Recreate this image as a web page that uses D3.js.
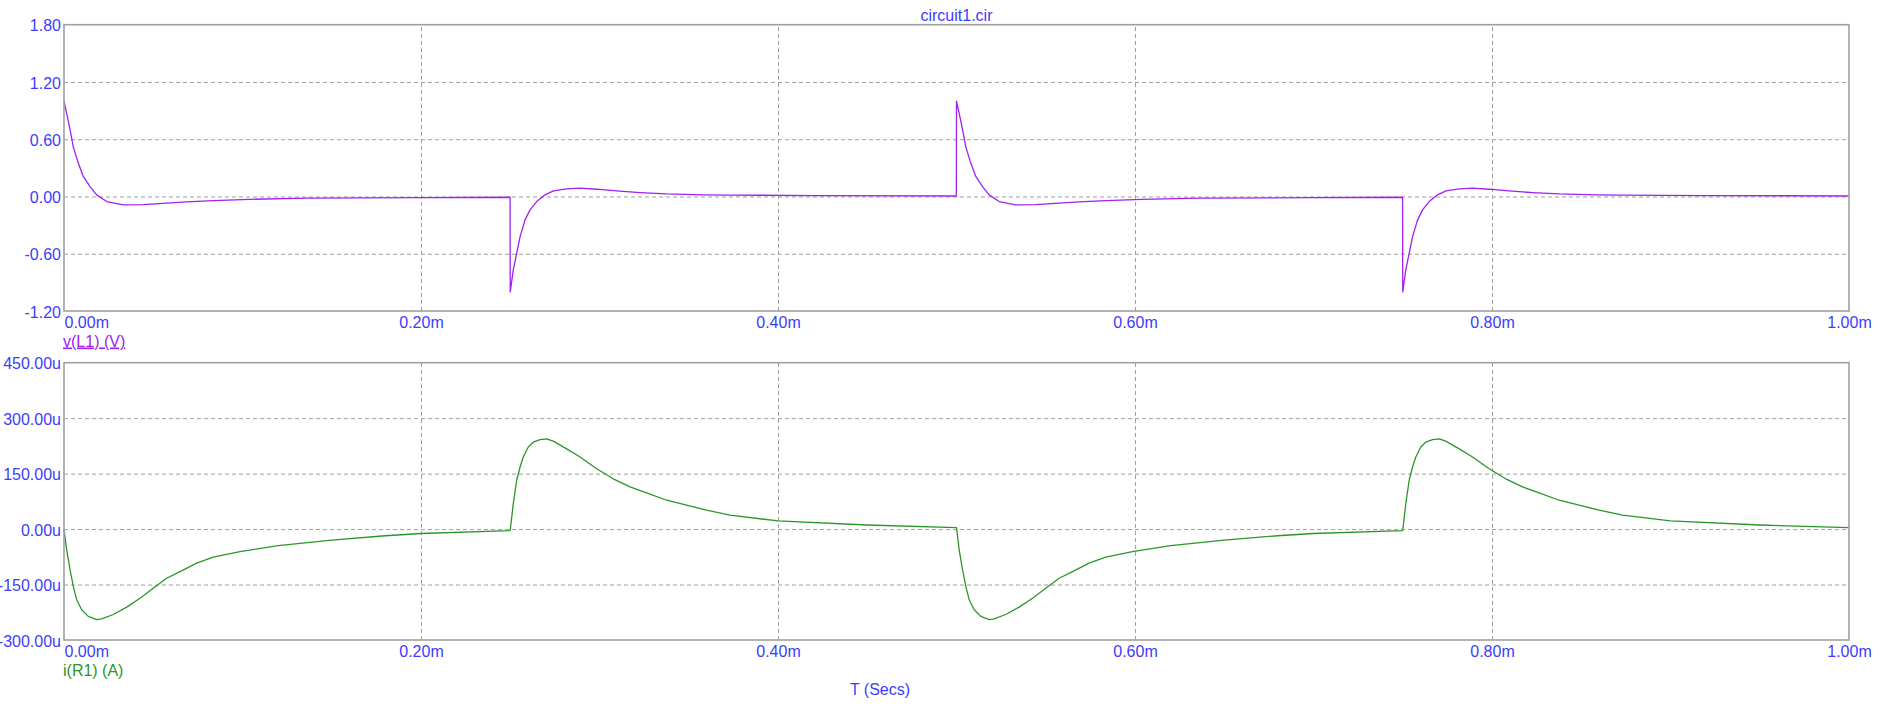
<!DOCTYPE html>
<html>
<head>
<meta charset="utf-8">
<script src="https://cdn.jsdelivr.net/npm/d3@7"></script>
<style>
  html, body { margin: 0; padding: 0; background: #ffffff; }
  svg { display: block; font-family: "Liberation Sans", Arial, sans-serif; }
</style>
</head>
<body>
<svg id="chart" width="1887" height="705"></svg>
<script>
// ---- data (time in ms) ----
const title = "circuit1.cir";
const xLabel = "T (Secs)";
const vLabel = "v(L1) (V)";
const iLabel = "i(R1) (A)";

const xTicks = [0, 0.2, 0.4, 0.6, 0.8, 1.0];
const xTickLabels = ["0.00m", "0.20m", "0.40m", "0.60m", "0.80m", "1.00m"];
const vTicks = [-1.2, -0.6, 0, 0.6, 1.2, 1.8];
const vTickLabels = ["-1.20", "-0.60", "0.00", "0.60", "1.20", "1.80"];
const iTicks = [-300, -150, 0, 150, 300, 450];
const iTickLabels = ["-300.00u", "-150.00u", "0.00u", "150.00u", "300.00u", "450.00u"];

// v(L1) in volts
const vTime = [
  0, 0.0015, 0.0034, 0.0052, 0.0080, 0.0108, 0.0146, 0.0183, 0.0239, 0.0332, 0.0444, 0.0575, 0.0687, 0.0836, 0.1040, 0.1360, 0.2000, 0.2499,
  0.2500, 0.2517, 0.2536, 0.2555, 0.2583, 0.2611, 0.2648, 0.2695, 0.2742, 0.2816, 0.2891, 0.2984, 0.3096, 0.3227, 0.3376, 0.3582, 0.3731, 0.4200, 0.4999,
  0.5000, 0.5015, 0.5034, 0.5052, 0.5080, 0.5108, 0.5146, 0.5183, 0.5239, 0.5332, 0.5444, 0.5575, 0.5687, 0.5836, 0.6040, 0.6360, 0.7000, 0.7499,
  0.7500, 0.7517, 0.7536, 0.7555, 0.7583, 0.7611, 0.7648, 0.7695, 0.7742, 0.7816, 0.7891, 0.7984, 0.8096, 0.8227, 0.8376, 0.8582, 0.8731, 0.9200, 1.0000
];
const vValues = [
  1.00, 0.87, 0.70, 0.52, 0.35, 0.21, 0.104, 0.017, -0.053, -0.088, -0.085, -0.070, -0.057, -0.044, -0.030, -0.018, -0.012, -0.008,
  -1.00, -0.77, -0.595, -0.42, -0.245, -0.14, -0.053, 0.017, 0.058, 0.080, 0.087, 0.076, 0.058, 0.041, 0.027, 0.017, 0.015, 0.010, 0.005,
  1.00, 0.87, 0.70, 0.52, 0.35, 0.21, 0.104, 0.017, -0.053, -0.088, -0.085, -0.070, -0.057, -0.044, -0.030, -0.018, -0.012, -0.008,
  -1.00, -0.77, -0.595, -0.42, -0.245, -0.14, -0.053, 0.017, 0.058, 0.080, 0.087, 0.076, 0.058, 0.041, 0.027, 0.017, 0.015, 0.010, 0.005
];

// i(R1) in microamps
const iTime = [
  0, 0.0015, 0.0034, 0.0052, 0.0071, 0.0099, 0.0136, 0.0183, 0.0211, 0.0276, 0.0351, 0.0426, 0.0500, 0.0575, 0.0650, 0.0743, 0.0836, 0.0986, 0.1200, 0.1500, 0.1800, 0.2000, 0.2499,
  0.2500, 0.2517, 0.2536, 0.2555, 0.2573, 0.2601, 0.2629, 0.2667, 0.2704, 0.2741, 0.2816, 0.2891, 0.2984, 0.3077, 0.3171, 0.3264, 0.3376, 0.3488, 0.3600, 0.3731, 0.4000, 0.4500, 0.4999,
  0.5000, 0.5015, 0.5034, 0.5052, 0.5071, 0.5099, 0.5136, 0.5183, 0.5211, 0.5276, 0.5351, 0.5426, 0.5500, 0.5575, 0.5650, 0.5743, 0.5836, 0.5986, 0.6200, 0.6500, 0.6800, 0.7000, 0.7499,
  0.7500, 0.7517, 0.7536, 0.7555, 0.7573, 0.7601, 0.7629, 0.7667, 0.7704, 0.7741, 0.7816, 0.7891, 0.7984, 0.8077, 0.8171, 0.8264, 0.8376, 0.8488, 0.8600, 0.8731, 0.9000, 0.9500, 1.0000
];
const iValues = [
  0, -56, -110, -155, -191, -218, -236, -245, -243, -231, -211, -187, -160, -133, -115, -92, -76, -61, -45, -30, -18, -12, -4,
  -3, 69, 132, 168, 195, 222, 235, 242, 244, 238, 217, 195, 163, 136, 114, 98, 78, 65, 51, 38, 22, 11, 4,
  4, -56, -110, -155, -191, -218, -236, -245, -243, -231, -211, -187, -160, -133, -115, -92, -76, -61, -45, -30, -18, -12, -4,
  -3, 69, 132, 168, 195, 222, 235, 242, 244, 238, 217, 195, 163, 136, 114, 98, 78, 65, 51, 38, 22, 11, 4
];

// ---- drawing ----
const svg = d3.select("#chart");
const labelBlue = "#3c3cff";
const gridColor = "#a0a0a0";
const fontSize = 16;

const left = 64, right = 1849;
const topPlot = { top: 24.7, bottom: 311 };
const botPlot = { top: 362.7, bottom: 640 };

const x = d3.scaleLinear().domain([0, 1]).range([left, right]);
const yV = d3.scaleLinear().domain([-1.2, 1.8]).range([topPlot.bottom, topPlot.top]);
const yI = d3.scaleLinear().domain([-300, 450]).range([botPlot.bottom, botPlot.top]);

function drawPanel(y, yTicks, yTickLabels, plot, times, values, color, legend, underline) {
  const g = svg.append("g");

  // horizontal grid (inner ticks only)
  const innerY = yTicks.slice(1, -1);
  g.append("g")
    .attr("transform", `translate(${left},0)`)
    .call(d3.axisLeft(y).tickValues(innerY).tickSize(-(right - left)).tickFormat(""))
    .call(a => a.select(".domain").remove())
    .call(a => a.selectAll("line").attr("stroke", gridColor).attr("stroke-dasharray", "4,3").attr("stroke-width", 1));

  // vertical grid
  const innerX = xTicks.slice(1, -1);
  g.append("g")
    .attr("transform", `translate(0,${plot.bottom})`)
    .call(d3.axisBottom(x).tickValues(innerX).tickSize(-(plot.bottom - plot.top)).tickFormat(""))
    .call(a => a.select(".domain").remove())
    .call(a => a.selectAll("line").attr("stroke", gridColor).attr("stroke-dasharray", "4,3").attr("stroke-width", 1));

  // data line
  const pts = times.map((t, k) => [t, values[k]]);
  g.append("path")
    .datum(pts)
    .attr("fill", "none")
    .attr("stroke", color)
    .attr("stroke-width", 1.3)
    .attr("stroke-linejoin", "round")
    .attr("d", d3.line().x(d => x(d[0])).y(d => y(d[1])));

  // frame
  g.append("rect")
    .attr("x", left).attr("y", plot.top)
    .attr("width", right - left).attr("height", plot.bottom - plot.top)
    .attr("fill", "none").attr("stroke", gridColor).attr("stroke-width", 1.6);

  // y axis labels
  const yAxis = g.append("g")
    .attr("transform", `translate(${left},0)`)
    .call(d3.axisLeft(y).tickValues(yTicks).tickSize(0).tickPadding(3)
      .tickFormat((d, k) => yTickLabels[k]));
  yAxis.select(".domain").remove();
  yAxis.selectAll("text")
    .attr("fill", labelBlue)
    .attr("font-size", fontSize)
    .attr("font-family", '"Liberation Sans", Arial, sans-serif')
    .attr("dy", "0.38em");

  // x axis labels
  const xAxis = g.append("g")
    .attr("transform", `translate(0,${plot.bottom})`)
    .call(d3.axisBottom(x).tickValues(xTicks).tickSize(0).tickPadding(0)
      .tickFormat((d, k) => xTickLabels[k]));
  xAxis.select(".domain").remove();
  xAxis.selectAll("text")
    .attr("fill", labelBlue)
    .attr("font-size", fontSize)
    .attr("font-family", '"Liberation Sans", Arial, sans-serif')
    .attr("dy", null)
    .attr("y", 16.5)
    .attr("text-anchor", (d, k) => k === 0 ? "start" : "middle");

  // legend
  g.append("text")
    .attr("x", left - 1)
    .attr("y", plot.bottom + 35.5)
    .attr("fill", color)
    .attr("font-size", fontSize)
    .attr("text-decoration", underline ? "underline" : null)
    .text(legend);
}

drawPanel(yV, vTicks, vTickLabels, topPlot, vTime, vValues, "#a020f0", vLabel, true);
drawPanel(yI, iTicks, iTickLabels, botPlot, iTime, iValues, "#2a962a", iLabel, false);

// title
svg.append("text")
  .attr("x", (left + right) / 2)
  .attr("y", 21)
  .attr("text-anchor", "middle")
  .attr("fill", labelBlue)
  .attr("font-size", fontSize)
  .text(title);

// x axis title
svg.append("text")
  .attr("x", 880)
  .attr("y", 695)
  .attr("text-anchor", "middle")
  .attr("fill", labelBlue)
  .attr("font-size", fontSize)
  .text(xLabel);
</script>
</body>
</html>
